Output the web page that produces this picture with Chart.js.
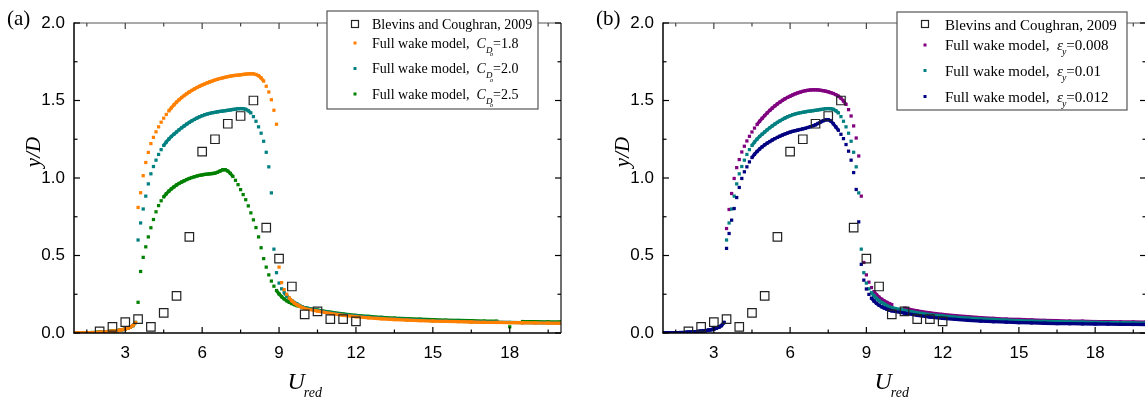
<!DOCTYPE html>
<html>
<head>
<meta charset="utf-8">
<script src="https://cdn.jsdelivr.net/npm/chart.js@4.4.1/dist/chart.umd.min.js"></script>
<style>
  html, body { margin: 0; padding: 0; background: #fff; overflow: hidden; }
  #wrap { position: relative; width: 1145px; height: 398px; overflow: hidden; background: #fff; }
  canvas { position: absolute; top: 0; }
</style>
</head>
<body>
<div id="wrap">
  <canvas id="chartA" width="580" height="398" style="left:0px"></canvas>
  <canvas id="chartB" width="580" height="398" style="left:589px"></canvas>
</div>
<script>
// reduced velocity grid of the model runs (fine up to 10, coarse in the tail)
const uRed = [
  1.0, 1.1, 1.2, 1.3, 1.4, 1.5, 1.6, 1.7, 1.8, 1.9,
  2.0, 2.1, 2.2, 2.3, 2.4, 2.5, 2.6, 2.7, 2.8, 2.9,
  3.0, 3.1, 3.2, 3.3, 3.4, 3.5, 3.6, 3.7, 3.8, 3.9,
  4.0, 4.1, 4.2, 4.3, 4.4, 4.5, 4.6, 4.7, 4.8, 4.9,
  5.0, 5.1, 5.2, 5.3, 5.4, 5.5, 5.6, 5.7, 5.8, 5.9,
  6.0, 6.1, 6.2, 6.3, 6.4, 6.5, 6.6, 6.7, 6.8, 6.9,
  7.0, 7.1, 7.2, 7.3, 7.4, 7.5, 7.6, 7.7, 7.8, 7.9,
  8.0, 8.1, 8.2, 8.3, 8.4, 8.5, 8.6, 8.7, 8.8, 8.9,
  9.0, 9.1, 9.2, 9.3, 9.4, 9.5, 9.6, 9.7, 9.8, 9.9,
  10.0,
  10.5, 11.0, 11.5, 12.0, 12.5, 13.0, 13.5, 14.0, 14.5, 15.0,
  15.5, 16.0, 16.5, 17.0, 17.5, 18.0, 18.5, 19.0, 19.5, 20.0
];

// y/D, panel (a): C_D0 = 1.8
const cd18 = [
  0.000, 0.000, 0.001, 0.001, 0.001, 0.002, 0.002, 0.003, 0.003, 0.004,
  0.005, 0.006, 0.007, 0.008, 0.010, 0.012, 0.014, 0.016, 0.019, 0.022,
  0.026, 0.031, 0.038, 0.048, 0.068,
  0.810, 0.905, 1.015, 1.100, 1.165, 1.222, 1.262, 1.298, 1.330, 1.360,
  1.386, 1.410, 1.433, 1.453, 1.472, 1.490, 1.505, 1.519, 1.532, 1.544,
  1.555, 1.565, 1.575, 1.584, 1.592, 1.600, 1.607, 1.614, 1.620, 1.626,
  1.632, 1.637, 1.642, 1.646, 1.650, 1.654, 1.657, 1.660, 1.662, 1.664,
  1.666, 1.668, 1.670, 1.672, 1.673, 1.672, 1.668, 1.660, 1.646, 1.625,
  1.592, 1.555, 1.505, 1.437, 1.347, 0.425, 0.325, 0.280, 0.250, 0.226,
  0.207, 0.193, 0.182, 0.173, 0.165, 0.158,
  0.141, 0.126, 0.114, 0.105, 0.098, 0.092, 0.087, 0.083, 0.080, 0.077,
  0.075, 0.073, 0.071, 0.069, 0.068, 0.067, 0.066, 0.065, 0.064, 0.063
];

// C_D0 = 2.0 (same run as eps_y = 0.01)
const cd20 = [
  0.000, 0.000, 0.001, 0.001, 0.001, 0.002, 0.002, 0.003, 0.003, 0.004,
  0.005, 0.006, 0.007, 0.008, 0.010, 0.012, 0.014, 0.016, 0.019, 0.022,
  0.026, 0.031, 0.038, 0.048, 0.068,
  0.600, 0.710, 0.800, 0.883, 0.962, 1.027, 1.074, 1.115, 1.152, 1.183,
  1.210, 1.232, 1.251, 1.268, 1.283, 1.297, 1.311, 1.324, 1.336, 1.348,
  1.359, 1.369, 1.378, 1.387, 1.395, 1.402, 1.408, 1.413, 1.417, 1.421,
  1.424, 1.427, 1.430, 1.432, 1.434, 1.437, 1.439, 1.442, 1.444, 1.447,
  1.448, 1.447, 1.443, 1.434, 1.420, 1.396, 1.366, 1.330, 1.289, 1.237,
  1.166, 1.072, 0.904, 0.541, 0.389, 0.322, 0.285, 0.260, 0.240, 0.223,
  0.209, 0.197, 0.187, 0.178, 0.170, 0.163,
  0.146, 0.131, 0.119, 0.110, 0.102, 0.096, 0.091, 0.087, 0.083, 0.080,
  0.077, 0.075, 0.073, 0.071, 0.070, 0.068, 0.067, 0.066, 0.065, 0.064
];

// C_D0 = 2.5
const cd25 = [
  0.000, 0.000, 0.001, 0.001, 0.001, 0.002, 0.002, 0.003, 0.003, 0.004,
  0.005, 0.006, 0.007, 0.008, 0.010, 0.012, 0.014, 0.016, 0.019, 0.022,
  0.026, 0.031, 0.038, 0.048, 0.068,
  0.198, 0.397, 0.488, 0.556, 0.620, 0.679, 0.732, 0.782, 0.822, 0.853,
  0.878, 0.898, 0.915, 0.930, 0.943, 0.955, 0.965, 0.974, 0.982, 0.990,
  0.997, 1.003, 1.008, 1.013, 1.017, 1.020, 1.023, 1.025, 1.027, 1.029,
  1.032, 1.037, 1.045, 1.053, 1.054, 1.045, 1.030, 1.010, 0.985, 0.957,
  0.925, 0.893, 0.860, 0.820, 0.775, 0.730, 0.680, 0.620, 0.550, 0.480,
  0.425, 0.375, 0.335, 0.302, 0.274, 0.252, 0.234, 0.220, 0.208, 0.198,
  0.190, 0.183, 0.177, 0.172, 0.167, 0.163,
  0.148, 0.134, 0.123, 0.114, 0.107, 0.101, 0.096, 0.092, 0.089, 0.086,
  0.083, 0.081, 0.079, 0.077, 0.076, 0.040, 0.074, 0.073, 0.072, 0.071
];

// panel (b): eps_y = 0.008
const eps008 = [
  0.000, 0.000, 0.001, 0.001, 0.001, 0.002, 0.002, 0.003, 0.003, 0.004,
  0.005, 0.006, 0.007, 0.008, 0.010, 0.012, 0.014, 0.016, 0.019, 0.022,
  0.026, 0.031, 0.038, 0.048, 0.068,
  0.674, 0.797, 0.900, 0.997, 1.067, 1.119, 1.168, 1.205, 1.239, 1.269,
  1.297, 1.322, 1.345, 1.366, 1.385, 1.403, 1.420, 1.436, 1.451, 1.465,
  1.478, 1.490, 1.501, 1.511, 1.520, 1.528, 1.536, 1.543, 1.549, 1.554,
  1.559, 1.563, 1.566, 1.568, 1.569, 1.569, 1.568, 1.566, 1.563, 1.560,
  1.556, 1.551, 1.545, 1.538, 1.528, 1.515, 1.497, 1.475, 1.441, 1.400,
  1.336, 1.258, 1.142, 0.883, 0.455, 0.375, 0.328, 0.293, 0.267, 0.247,
  0.231, 0.218, 0.207, 0.198, 0.190, 0.183,
  0.160, 0.143, 0.130, 0.120, 0.112, 0.105, 0.099, 0.094, 0.090, 0.087,
  0.084, 0.081, 0.079, 0.077, 0.076, 0.074, 0.073, 0.072, 0.071, 0.070
];

// eps_y = 0.012
const eps012 = [
  0.000, 0.000, 0.001, 0.001, 0.001, 0.002, 0.002, 0.003, 0.003, 0.004,
  0.005, 0.006, 0.007, 0.008, 0.010, 0.012, 0.014, 0.016, 0.019, 0.022,
  0.026, 0.031, 0.038, 0.048, 0.068,
  0.546, 0.642, 0.728, 0.803, 0.874, 0.939, 0.997, 1.040, 1.072, 1.104,
  1.132, 1.153, 1.171, 1.187, 1.201, 1.214, 1.225, 1.235, 1.245, 1.254,
  1.262, 1.270, 1.277, 1.284, 1.290, 1.296, 1.301, 1.305, 1.309, 1.313,
  1.317, 1.321, 1.326, 1.331, 1.337, 1.343, 1.352, 1.361, 1.369, 1.375,
  1.376, 1.368, 1.350, 1.329, 1.308, 1.282, 1.254, 1.216, 1.173, 1.115,
  1.035, 0.926, 0.717, 0.443, 0.341, 0.284, 0.249, 0.225, 0.206, 0.191,
  0.179, 0.169, 0.161, 0.154, 0.148, 0.143,
  0.128, 0.114, 0.103, 0.095, 0.088, 0.082, 0.077, 0.073, 0.070, 0.067,
  0.065, 0.063, 0.061, 0.060, 0.059, 0.058, 0.057, 0.056, 0.055, 0.055
];

// Blevins and Coughran (2009) experiment
const expU = [2, 2.5, 3, 3.5, 4, 4.5, 5, 5.5, 6, 6.5, 7, 7.5, 8, 8.5, 9, 9.5, 10, 10.5, 11, 11.5, 12];
const expY = [0.01, 0.04, 0.07, 0.09, 0.04, 0.13, 0.24, 0.62, 1.17, 1.25, 1.35, 1.40, 1.50, 0.68, 0.48, 0.30, 0.12, 0.14, 0.09, 0.09, 0.075];

const xTicks = [3, 6, 9, 12, 15, 18];
const xMinor = [1.5, 4.5, 7.5, 10.5, 13.5, 16.5, 19.5];
const yTicks = [0, 0.5, 1.0, 1.5, 2.0];
const yMinor = [0.25, 0.75, 1.25, 1.75];

const expLabel = 'Blevins and Coughran, 2009';
const modelLabel = 'Full wake model,  ';
const cdValues = ['1.8', '2.0', '2.5'];
const epsValues = ['0.008', '0.01', '0.012'];

const ORANGE = 'rgb(255,128,0)';
const TEAL = 'rgb(0,128,128)';
const GREEN = 'rgb(0,128,0)';
const PURPLE = 'rgb(128,0,128)';
const NAVY = 'rgb(0,0,128)';

const SERIF = '"Liberation Serif", "Times New Roman", serif';
const SANS = '"Liberation Sans", Arial, sans-serif';

function pts(xs, ys) {
  return xs.map((x, i) => ({ x: x, y: ys[i] }));
}

function modelSet(label, ys, color, order) {
  return {
    label: label,
    data: pts(uRed, ys),
    order: order,
    showLine: true,
    borderColor: color,
    borderWidth: 3.3,
    pointStyle: 'rect',
    pointRadius: 2.3,
    pointBorderWidth: 0,
    pointBackgroundColor: color,
    // dots only where the curve jumps, merged band where it is flat
    segment: {
      borderColor: c => Math.abs(c.p1.y - c.p0.y) > 3.5 ? 'rgba(0,0,0,0)' : undefined
    }
  };
}

function expSet() {
  return {
    label: expLabel,
    data: pts(expU, expY),
    order: 0,
    showLine: false,
    pointStyle: 'rect',
    pointRadius: 6,
    pointBorderWidth: 1.2,
    pointBorderColor: '#222',
    pointBackgroundColor: 'rgba(0,0,0,0)'
  };
}

function drawRich(ctx, x, y, parts, size) {
  parts.forEach(p => {
    const s = size * (p.scale || 1);
    ctx.font = (p.italic ? 'italic ' : '') + s + 'px ' + SERIF;
    x += (p.dx || 0);
    ctx.fillText(p.t, x, y + (p.dy || 0));
    x += ctx.measureText(p.t).width;
  });
}

function cdParts(v) {
  return [
    { t: modelLabel },
    { t: 'C', italic: true },
    { t: 'D', italic: true, scale: 0.64, dy: 5 },
    { t: 'o', italic: true, scale: 0.45, dy: 8.5, dx: -2.5 },
    { t: '=' + v }
  ];
}

function epsParts(v) {
  return [
    { t: modelLabel },
    { t: '\u03b5', italic: true },
    { t: 'y', italic: true, scale: 0.66, dy: 5, dx: -1 },
    { t: '=' + v }
  ];
}

const framePlugin = {
  id: 'frame',
  afterDraw(chart, args, o) {
    const ctx = chart.ctx, a = chart.chartArea;
    const sx = chart.scales.x, sy = chart.scales.y;
    ctx.save();
    ctx.lineCap = 'butt';
    function seg(x1, y1, x2, y2, w, c) {
      ctx.beginPath();
      ctx.lineWidth = w;
      ctx.strokeStyle = c;
      ctx.moveTo(x1, y1);
      ctx.lineTo(x2, y2);
      ctx.stroke();
    }
    // box
    seg(a.left, a.top, a.right, a.top, 1.2, '#555');
    seg(a.right, a.top, a.right, a.bottom, 1.2, '#111');
    seg(a.left - 0.75, a.bottom, a.right, a.bottom, 1.5, '#000');
    seg(a.left, a.top - 0.6, a.left, a.bottom, 1.5, '#000');
    // inward ticks on all four sides
    xTicks.forEach(v => {
      const p = sx.getPixelForValue(v);
      seg(p, a.bottom, p, a.bottom - 6, 1.2, '#000');
      seg(p, a.top, p, a.top + 6, 1.2, '#444');
    });
    xMinor.forEach(v => {
      const p = sx.getPixelForValue(v);
      seg(p, a.bottom, p, a.bottom - 3.5, 1.2, '#000');
      seg(p, a.top, p, a.top + 3.5, 1.2, '#444');
    });
    yTicks.forEach(v => {
      const p = sy.getPixelForValue(v);
      seg(a.left, p, a.left + 6, p, 1.2, '#000');
      seg(a.right, p, a.right - 6, p, 1.2, '#000');
    });
    yMinor.forEach(v => {
      const p = sy.getPixelForValue(v);
      seg(a.left, p, a.left + 3.5, p, 1.2, '#000');
      seg(a.right, p, a.right - 3.5, p, 1.2, '#000');
    });

    ctx.fillStyle = '#000';
    ctx.textBaseline = 'alphabetic';
    ctx.textAlign = 'left';
    // panel tag
    ctx.font = '21px ' + SERIF;
    ctx.fillText(o.tag, 7, 25);
    // y title
    ctx.save();
    ctx.translate(a.left - 40, 152);
    ctx.rotate(-Math.PI / 2);
    ctx.textAlign = 'center';
    ctx.font = 'italic 21px ' + SERIF;
    ctx.fillText('y/D', 0, 6);
    ctx.restore();
    // x title U_red
    const cx = (a.left + a.right) / 2 - 30;
    ctx.font = 'italic 24px ' + SERIF;
    ctx.fillText('U', cx, 389);
    const uw = ctx.measureText('U').width;
    ctx.font = 'italic 14px ' + SERIF;
    ctx.fillText('red', cx + uw - 1, 397);

    // legend
    const L = o.legend;
    ctx.fillStyle = '#fff';
    ctx.fillRect(L.x, L.y, L.w, L.h);
    ctx.lineWidth = 1.2;
    ctx.strokeStyle = '#555';
    ctx.strokeRect(L.x, L.y, L.w, L.h);
    L.rows.forEach(r => {
      if (r.open) {
        ctx.lineWidth = 1.2;
        ctx.strokeStyle = '#222';
        ctx.strokeRect(L.markX - 3.5, r.my - 3.5, 7, 7);
      } else {
        ctx.fillStyle = r.color;
        ctx.fillRect(L.markX - 1.5, r.my - 1.5, 3, 3);
      }
      ctx.fillStyle = '#000';
      drawRich(ctx, L.textX, r.ty, r.parts, L.size);
    });
    ctx.restore();
  }
};

function buildChart(id, datasets, frameOpts, padRight) {
  return new Chart(document.getElementById(id).getContext('2d'), {
    type: 'scatter',
    data: { datasets: datasets },
    options: {
      responsive: false,
      animation: false,
      devicePixelRatio: 1,
      events: [],
      layout: { padding: { left: 0, right: padRight, top: 23, bottom: 0 } },
      plugins: {
        legend: { display: false },
        tooltip: { enabled: false },
        frame: frameOpts
      },
      scales: {
        x: {
          type: 'linear',
          min: 1,
          max: 20,
          grid: { display: false, drawTicks: false },
          border: { display: false },
          afterBuildTicks: s => { s.ticks = xTicks.map(v => ({ value: v })); },
          afterFit: s => { s.height = 65; },
          ticks: {
            font: { family: SANS, size: 17 },
            color: '#000',
            padding: 10,
            maxRotation: 0,
            autoSkip: false
          }
        },
        y: {
          type: 'linear',
          min: 0,
          max: 2,
          grid: { display: false, drawTicks: false },
          border: { display: false },
          afterBuildTicks: s => { s.ticks = yTicks.map(v => ({ value: v })); },
          afterFit: s => { s.width = 74; },
          ticks: {
            font: { family: SANS, size: 17 },
            color: '#000',
            padding: 9,
            callback: v => Number(v).toFixed(1)
          }
        }
      }
    },
    plugins: [framePlugin]
  });
}

buildChart('chartA', [
  expSet(),
  modelSet('C_D0=' + cdValues[0], cd18, ORANGE, 1),
  modelSet('C_D0=' + cdValues[1], cd20, TEAL, 2),
  modelSet('C_D0=' + cdValues[2], cd25, GREEN, 3)
], {
  tag: '(a)',
  legend: {
    x: 327, y: 11, w: 211, h: 98, markX: 355, textX: 372, size: 14,
    rows: [
      { open: true, my: 24, ty: 29, parts: [{ t: expLabel }] },
      { color: ORANGE, my: 43, ty: 47.5, parts: cdParts(cdValues[0]) },
      { color: TEAL, my: 68.5, ty: 73, parts: cdParts(cdValues[1]) },
      { color: GREEN, my: 94, ty: 98.5, parts: cdParts(cdValues[2]) }
    ]
  }
}, 19);

buildChart('chartB', [
  expSet(),
  modelSet('eps=' + epsValues[2], eps012, NAVY, 1),
  modelSet('eps=' + epsValues[1], cd20, TEAL, 2),
  modelSet('eps=' + epsValues[0], eps008, PURPLE, 3)
], {
  tag: '(b)',
  legend: {
    x: 308, y: 12, w: 230, h: 98, markX: 336, textX: 356, size: 15,
    rows: [
      { open: true, my: 24, ty: 29.5, parts: [{ t: expLabel }] },
      { color: PURPLE, my: 45, ty: 50, parts: epsParts(epsValues[0]) },
      { color: TEAL, my: 70.5, ty: 76, parts: epsParts(epsValues[1]) },
      { color: NAVY, my: 96.5, ty: 101.5, parts: epsParts(epsValues[2]) }
    ]
  }
}, 23);
</script>
</body>
</html>
